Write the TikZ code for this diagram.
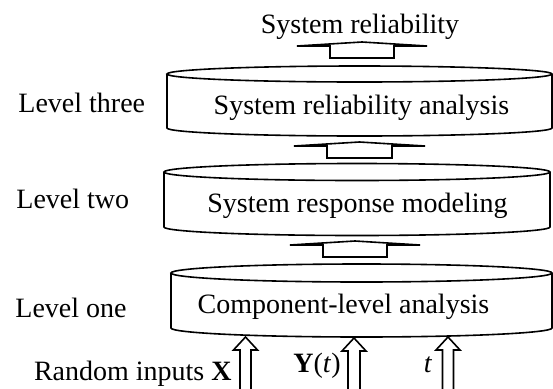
\documentclass[tikz,border=0pt]{standalone}
\usepackage{fontspec}
\setmainfont{Liberation Serif}
\usepackage{tikz}
\usetikzlibrary{calc}

\newcommand{\drumshape}[5]{%
	\draw[drum] (#1,#3) ellipse [x radius=#2, y radius=#5];
	\draw[drum] ({#1-#2},#3) -- ({#1-#2},#4) arc [start angle=180, end angle=360, x radius=#2, y radius=#5] -- ({#1+#2},#3);}

\newcommand{\hollowarrow}[5]{%
	\draw[blk] ($(#1)+(-#3,0)$) -- ($(#2)+(-#3,-#5)$) -- ($(#2)+(-#4,-#5)$) -- (#2) -- ($(#2)+(#4,-#5)$) -- ($(#2)+(#3,-#5)$) -- ($(#1)+(#3,0)$) -- cycle;}

\begin{document}
\begin{tikzpicture}[x=0.5pt,y=0.5pt,
	drum/.style={line width=0.8pt},
	blk/.style={line width=0.8pt, line join=miter},
	txt/.style={inner sep=0pt, font=\fontsize{14}{16}\selectfont}]

	\useasboundingbox (0,0) rectangle (553,388);

	\drumshape{359.5}{192.5}{314}{260}{8}
	\drumshape{357}{193}{216}{161}{8.5}
	\drumshape{361.5}{190.5}{115}{60}{9}

	\node[txt, anchor=base] (sysrel) at (360,355) {System reliability};
	\node[txt, anchor=base] (relan) at (361.5,274) {System reliability analysis};
	\node[txt, anchor=base] (respmod) at (357.5,176) {System response modeling};
	\node[txt, anchor=base] (complev) at (343.5,75) {Component-level analysis};

	\node[txt, anchor=base west] (lvlthree) at (18,276) {Level three};
	\node[txt, anchor=base west] (lvltwo) at (16,180) {Level two};
	\node[txt, anchor=base west] (lvlone) at (15,71) {Level one};

	\node[txt, anchor=base east] (inX) at (232,8) {Random inputs \textbf{X}};
	\node[txt, anchor=base west] (inY) at (293,16) {\textbf{Y}(\textit{t})};
	\node[txt, anchor=base] (inT) at (428,16) {\textit{t}};

	\coordinate (a3s) at (362,330);
	\coordinate (a3t) at (362,346);
	\coordinate (a2s) at (359.5,230);
	\coordinate (a2t) at (359.5,246);
	\coordinate (a1s) at (355,131);
	\coordinate (a1t) at (355,147);

	\hollowarrow{a3s}{a3t}{32}{65}{4}
	\hollowarrow{a2s}{a2t}{32.5}{65.5}{4}
	\hollowarrow{a1s}{a1t}{32}{65}{4}

	\coordinate (bXs) at (245.5,-6);
	\coordinate (bXt) at (245.5,51);
	\coordinate (bYs) at (354,-6);
	\coordinate (bYt) at (354,50);
	\coordinate (bTs) at (448,-6);
	\coordinate (bTt) at (448,51);

	\hollowarrow{bXs}{bXt}{5.5}{12}{13}
	\hollowarrow{bYs}{bYt}{6}{12}{13}
	\hollowarrow{bTs}{bTt}{5.5}{12}{13}
\end{tikzpicture}
\end{document}
